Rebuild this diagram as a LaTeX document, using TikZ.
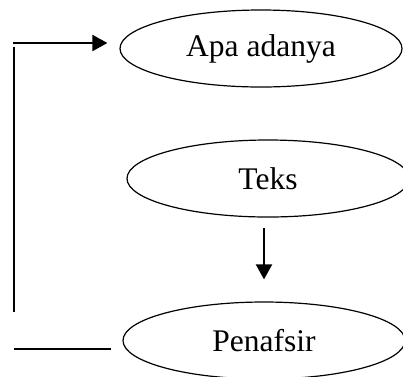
\documentclass[tikz,border=0pt]{standalone}
\usepackage{fontspec}
\setmainfont{Liberation Serif}
\usetikzlibrary{arrows.meta,positioning,shapes.geometric,calc}

\begin{document}
\begin{tikzpicture}[
  x=1pt,y=-1pt,
  oval/.style={draw,ellipse,line width=1.2pt,minimum width=282pt,minimum height=77pt,inner sep=0pt,font=\fontsize{31.5}{36}\selectfont},
  flow/.style={-{Triangle[length=15pt,width=16pt]},line width=2pt},
  link/.style={line width=2pt}
]
\useasboundingbox (0,0) rectangle (403,376);
\clip (0,0) rectangle (403,376);
\node[oval] (apa) at (261,48.5) {Apa adanya};
\node[oval] (teks) at (268,178.5) {Teks};
\node[oval] (tafsir) at (264,340.5) {Penafsir};
% loop back from Penafsir to Apa adanya
\coordinate (c1) at (14,349);
\coordinate (c2) at (14,312);
\coordinate (c3) at (14,47);
\coordinate (c4) at (13,43);
\draw[link] ($(tafsir.west |- c1)+(-11,0)$) -- (c1);
\draw[link] (c2) -- (c3);
\draw[flow] (c4) -- ($(apa.west |- c4)+(-12,0)$);
\draw[flow] ($(teks.south)+(-4,10)$) -- ($(tafsir.north)+(0,-22)$);
\end{tikzpicture}
\end{document}
